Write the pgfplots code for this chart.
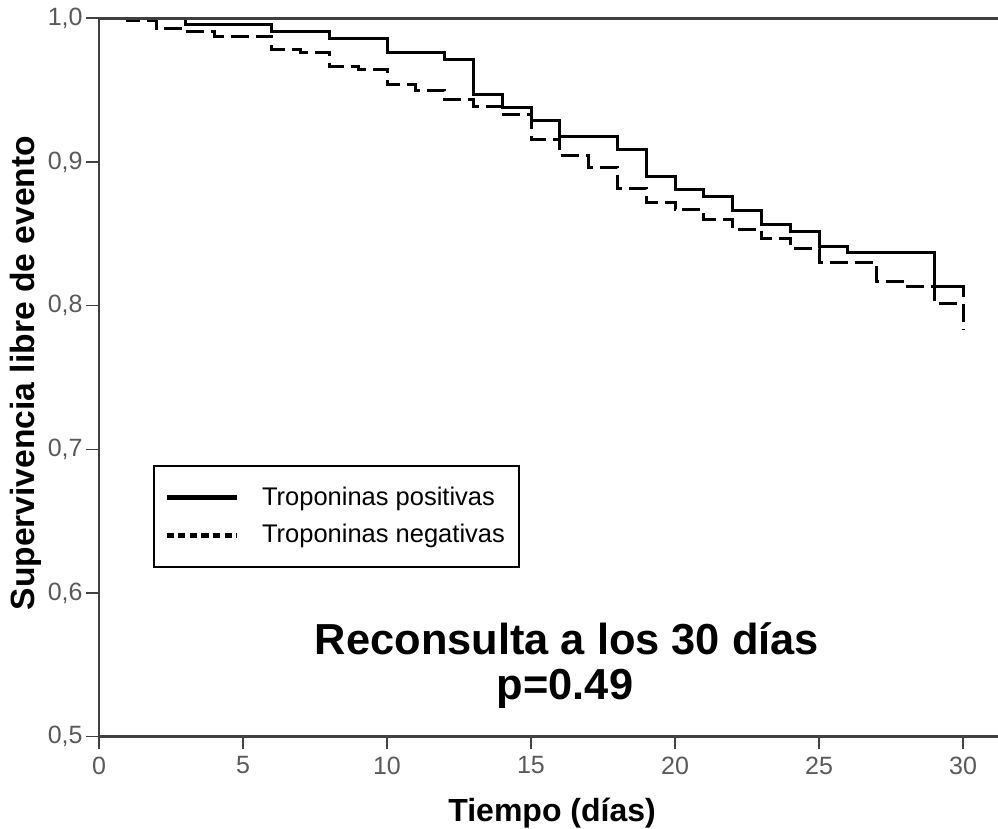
\documentclass[border=0pt]{standalone}
\usepackage{fontspec}
\setmainfont{Liberation Sans}
\usepackage{pgfplots}
\pgfplotsset{compat=1.18}
\definecolor{axgray}{gray}{0.25}
\definecolor{tickgray}{gray}{0.35}
\begin{document}
\begin{tikzpicture}
\begin{axis}[
  at={(0,0)}, anchor=south west,
  scale only axis, width=449.5pt, height=359.2pt,
  xmin=0, xmax=31.215, ymin=0.5, ymax=1.0,
  xtick={0,5,...,30}, ytick={0.5,0.6,0.7,0.8,0.9,1.0},
  tick pos=left, tick align=outside,
  major tick length=6.25pt,
  tick style={line width=0.8pt, color=axgray},
  axis line style={draw=none},
  clip=false,
  /pgf/number format/assume math mode=true,
  yticklabel style={/pgf/number format/fixed, /pgf/number format/fixed zerofill, /pgf/number format/precision=1, /pgf/number format/use comma},
  ticklabel style={font=\fontsize{12.5}{15}\selectfont, text=tickgray},
  yticklabel style={inner sep=0pt, xshift=-1.75pt},
  xticklabel style={inner sep=0pt, yshift=-3.5pt},
  xlabel={Tiempo (días)}, ylabel={Supervivencia libre de evento},
  xlabel style={at={(axis description cs:0.504,0)}, anchor=base, yshift=-42.2pt, font=\fontsize{16}{19}\selectfont\bfseries},
  ylabel style={at={(axis description cs:-0.0712,0.506)}, anchor=base, font=\fontsize{16.8}{20}\selectfont\bfseries},
  legend cell align=left,
  legend style={at={(rel axis cs:0.0601,0.3782)}, anchor=north west, draw=black, line width=1pt,
    font=\fontsize{12.75}{15.5}\selectfont, inner xsep=5pt, inner ysep=8.5pt, row sep=4pt,
    /tikz/every odd column/.append style={column sep=9.5pt}},
]
\addplot[const plot, black, line width=1.5pt,
  legend image code/.code={\draw[solid, line width=2.5pt] (0pt,0pt) -- (35pt,0pt);}]
coordinates {(0,1) (3,0.9955) (6,0.9907) (8,0.9858) (10,0.9765) (12,0.9715) (13,0.947) (14,0.938) (15,0.9287) (16,0.918) (18,0.9088) (19,0.8898) (20,0.8805) (21,0.8759) (22,0.866) (23,0.8562) (24,0.8515) (25,0.8415) (26,0.8369) (29,0.8132) (30,0.8132) (30,0.806)};
\addlegendentry{Troponinas positivas}
\addplot[const plot, black, line width=1.5pt, dash pattern=on 9pt off 3.5pt,
  legend image code/.code={\draw[line width=2.5pt, dash pattern=on 3.6pt off 2.2pt] (0pt,0pt) -- (35pt,0pt);}]
coordinates {(0,1) (1,0.9985) (2,0.993) (3,0.9907) (4,0.9872) (6,0.978) (7,0.976) (8,0.9663) (9,0.9645) (10,0.9536) (11,0.950) (12,0.9436) (13,0.9385) (14,0.9327) (15,0.9158) (16,0.9042) (17,0.8963) (18,0.8817) (19,0.8717) (20,0.8666) (21,0.8601) (22,0.8532) (23,0.8469) (24,0.8399) (25,0.8299) (27,0.8167) (28,0.8132) (29,0.8017) (30,0.8017) (30,0.783)};
\addlegendentry{Troponinas negativas}
\draw[axgray, line width=1.3pt] (rel axis cs:0,1) -- (rel axis cs:0,0) -- (rel axis cs:1,0);
\draw[axgray, line width=1.3pt] (rel axis cs:0,1) -- (rel axis cs:1,1);
\node[anchor=base, font=\fontsize{21.7}{26}\selectfont\bfseries] at (axis cs:16.25,0.557) {Reconsulta a los 30 días};
\node[anchor=base, font=\fontsize{21.7}{26}\selectfont\bfseries] at (axis cs:16.18,0.5257) {p=0.49};
\end{axis}
\pgfresetboundingbox
\path[use as bounding box] (-49.5pt,-46.15pt) rectangle (449.5pt,368.35pt);
\end{tikzpicture}
\end{document}
